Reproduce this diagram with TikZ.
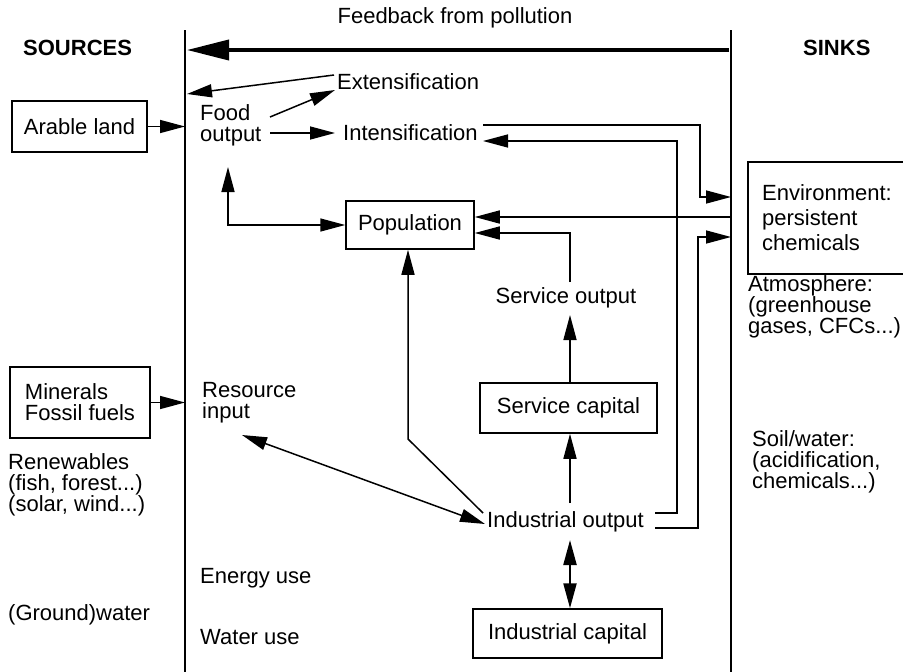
\documentclass[tikz,border=0pt]{standalone}
\usepackage{fontspec}
\setmainfont{Liberation Sans}
\usetikzlibrary{arrows.meta}
\begin{document}
\begin{tikzpicture}[x=1pt,y=-1pt,
  every node/.style={font=\fontsize{22}{21}\selectfont},
  txt/.style={anchor=west,inner sep=0pt,align=left},
  box/.style={draw,line width=1.5pt,inner sep=0pt,align=center},
  tip/.style={Triangle[length=25pt,width=13pt]},
  wire/.style={line width=1.5pt,-{Triangle[length=25pt,width=13pt]}},
  wire2/.style={line width=1.5pt,{Triangle[length=25pt,width=13pt]}-{Triangle[length=25pt,width=13pt]}},
  border/.style={line width=2.6pt},
  feedback/.style={line width=3.8pt,-{Triangle[length=42pt,width=20pt]}}]
\useasboundingbox (0,0) rectangle (903,672);
\fill[white] (0,0) rectangle (903,672);

% the two boundaries between sources, economy and sinks
\coordinate (Ltop) at (185,30);
\coordinate (Lbot) at (185,672);
\coordinate (Rtop) at (731,30);
\coordinate (Rbot) at (731,672);
\draw[border] (Ltop) -- (Lbot);
\draw[border] (Rtop) -- (Rbot);

% headings
\node (fb) at (455,18) {Feedback from pollution};
\node[txt,font=\fontsize{22}{21}\selectfont\bfseries] (src) at (23,48) {SOURCES};
\node[txt,font=\fontsize{22}{21}\selectfont\bfseries] (snk) at (803,48) {SINKS};
\coordinate (fbR) at (729,50);
\coordinate (fbL) at (187,50);
\draw[feedback] (fbR) -- (fbL);

% sources
\node[box,minimum width=135pt,minimum height=51pt] (arable) at (79.5,126.5) {Arable land};
\node[box,minimum width=140pt,minimum height=71pt,align=left] (minerals) at (80,402.5) {Minerals\\Fossil fuels};
\node[txt] (renew) at (8,485) {Renewables\\(fish, forest...)\\(solar, wind...)};
\node[txt] (ground) at (8,615) {(Ground)water};

\draw[wire] (arable.east) -- (arable.east -| Ltop);
\draw[wire] (minerals.east) -- (minerals.east -| Ltop);

% economy
\node[txt] (food) at (200,125) {Food\\output};
\node[txt] (ext) at (337,82) {Extensification};
\node[txt] (int) at (343,133) {Intensification};
\node[txt] (res) at (202,403) {Resource\\input};
\node[txt] (energy) at (200,578) {Energy use};
\node[txt] (water) at (200,637) {Water use};
\node[box,minimum width=128pt,minimum height=48pt] (pop) at (410,225) {Population};
\node (servout) at (566,298) {Service output};
\node[box,minimum width=177pt,minimum height=50pt] (servcap) at (568.5,408) {Service capital};
\node[txt] (indout) at (487,522) {Industrial output};
\node[box,minimum width=189pt,minimum height=49pt] (indcap) at (567.5,633.5) {Industrial capital};

% food sector
\coordinate (extL) at (334,75);
\coordinate (extIn) at (187,94);
\coordinate (foodA) at (270,117);
\coordinate (extA) at (335,90);
\coordinate (foodB) at (270,133);
\coordinate (intA) at (335,133);
\draw[wire] (extL) -- (extIn);
\draw[wire] (foodA) -- (extA);
\draw[wire] (foodB) -- (intA);

\coordinate (foodUp) at (228,167);
\coordinate (foodCorner) at (228,225);
\draw[wire2] (foodUp) -- (foodCorner) -- (pop.west |- foodCorner);

% flows to and from the sinks
\coordinate (intOut) at (483,125);
\coordinate (intJog) at (700,197);
\draw[wire] (intOut) -| (intJog) -- (intJog -| Rtop);

\coordinate (indA) at (655,513);
\coordinate (indAup) at (677,141);
\coordinate (intIn) at (483,141);
\draw[wire] (indA) -| (indAup) -- (intIn);

\coordinate (indB) at (655,528);
\coordinate (indBup) at (698,237);
\draw[wire] (indB) -| (indBup) -- (indBup -| Rtop);

\coordinate (envBack) at (731,217);
\draw[wire] (envBack) -- (envBack -| pop.east);

\coordinate (soTop) at (570,282);
\coordinate (soCorner) at (570,233);
\draw[wire] (soTop) -- (soCorner) -- (soCorner -| pop.east);

% industry
\coordinate (ioL) at (483,513);
\coordinate (popKnee) at (408,439);
\draw[wire] (ioL) -- (popKnee) -- (popKnee |- pop.south);

\coordinate (resEnd) at (242,435);
\coordinate (ioIn) at (485,524);
\draw[wire2] (resEnd) -- (ioIn);

\coordinate (ioTop) at (570,503);
\draw[wire] (ioTop) -- (ioTop |- servcap.south);
\coordinate (scTop) at (570,383);
\coordinate (soBot) at (570,315);
\draw[wire] (scTop) -- (soBot);

\coordinate (ioBot) at (570,540);
\draw[wire2,line width=2.2pt] (ioBot) -- (ioBot |- indcap.north);

% sinks
\coordinate (envTL) at (748,162);
\coordinate (envBR) at (925,274);
\draw[line width=1.5pt] (envTL) rectangle (envBR);
\node[txt,font=\fontsize{22}{25}\selectfont] (env) at (762,218) {Environment:\\persistent\\chemicals};
\node[txt] (atm) at (748,307) {Atmosphere:\\(greenhouse\\gases, CFCs...)};
\node[txt] (soil) at (752,462) {Soil/water:\\(acidification,\\chemicals...)};
\end{tikzpicture}
\end{document}
